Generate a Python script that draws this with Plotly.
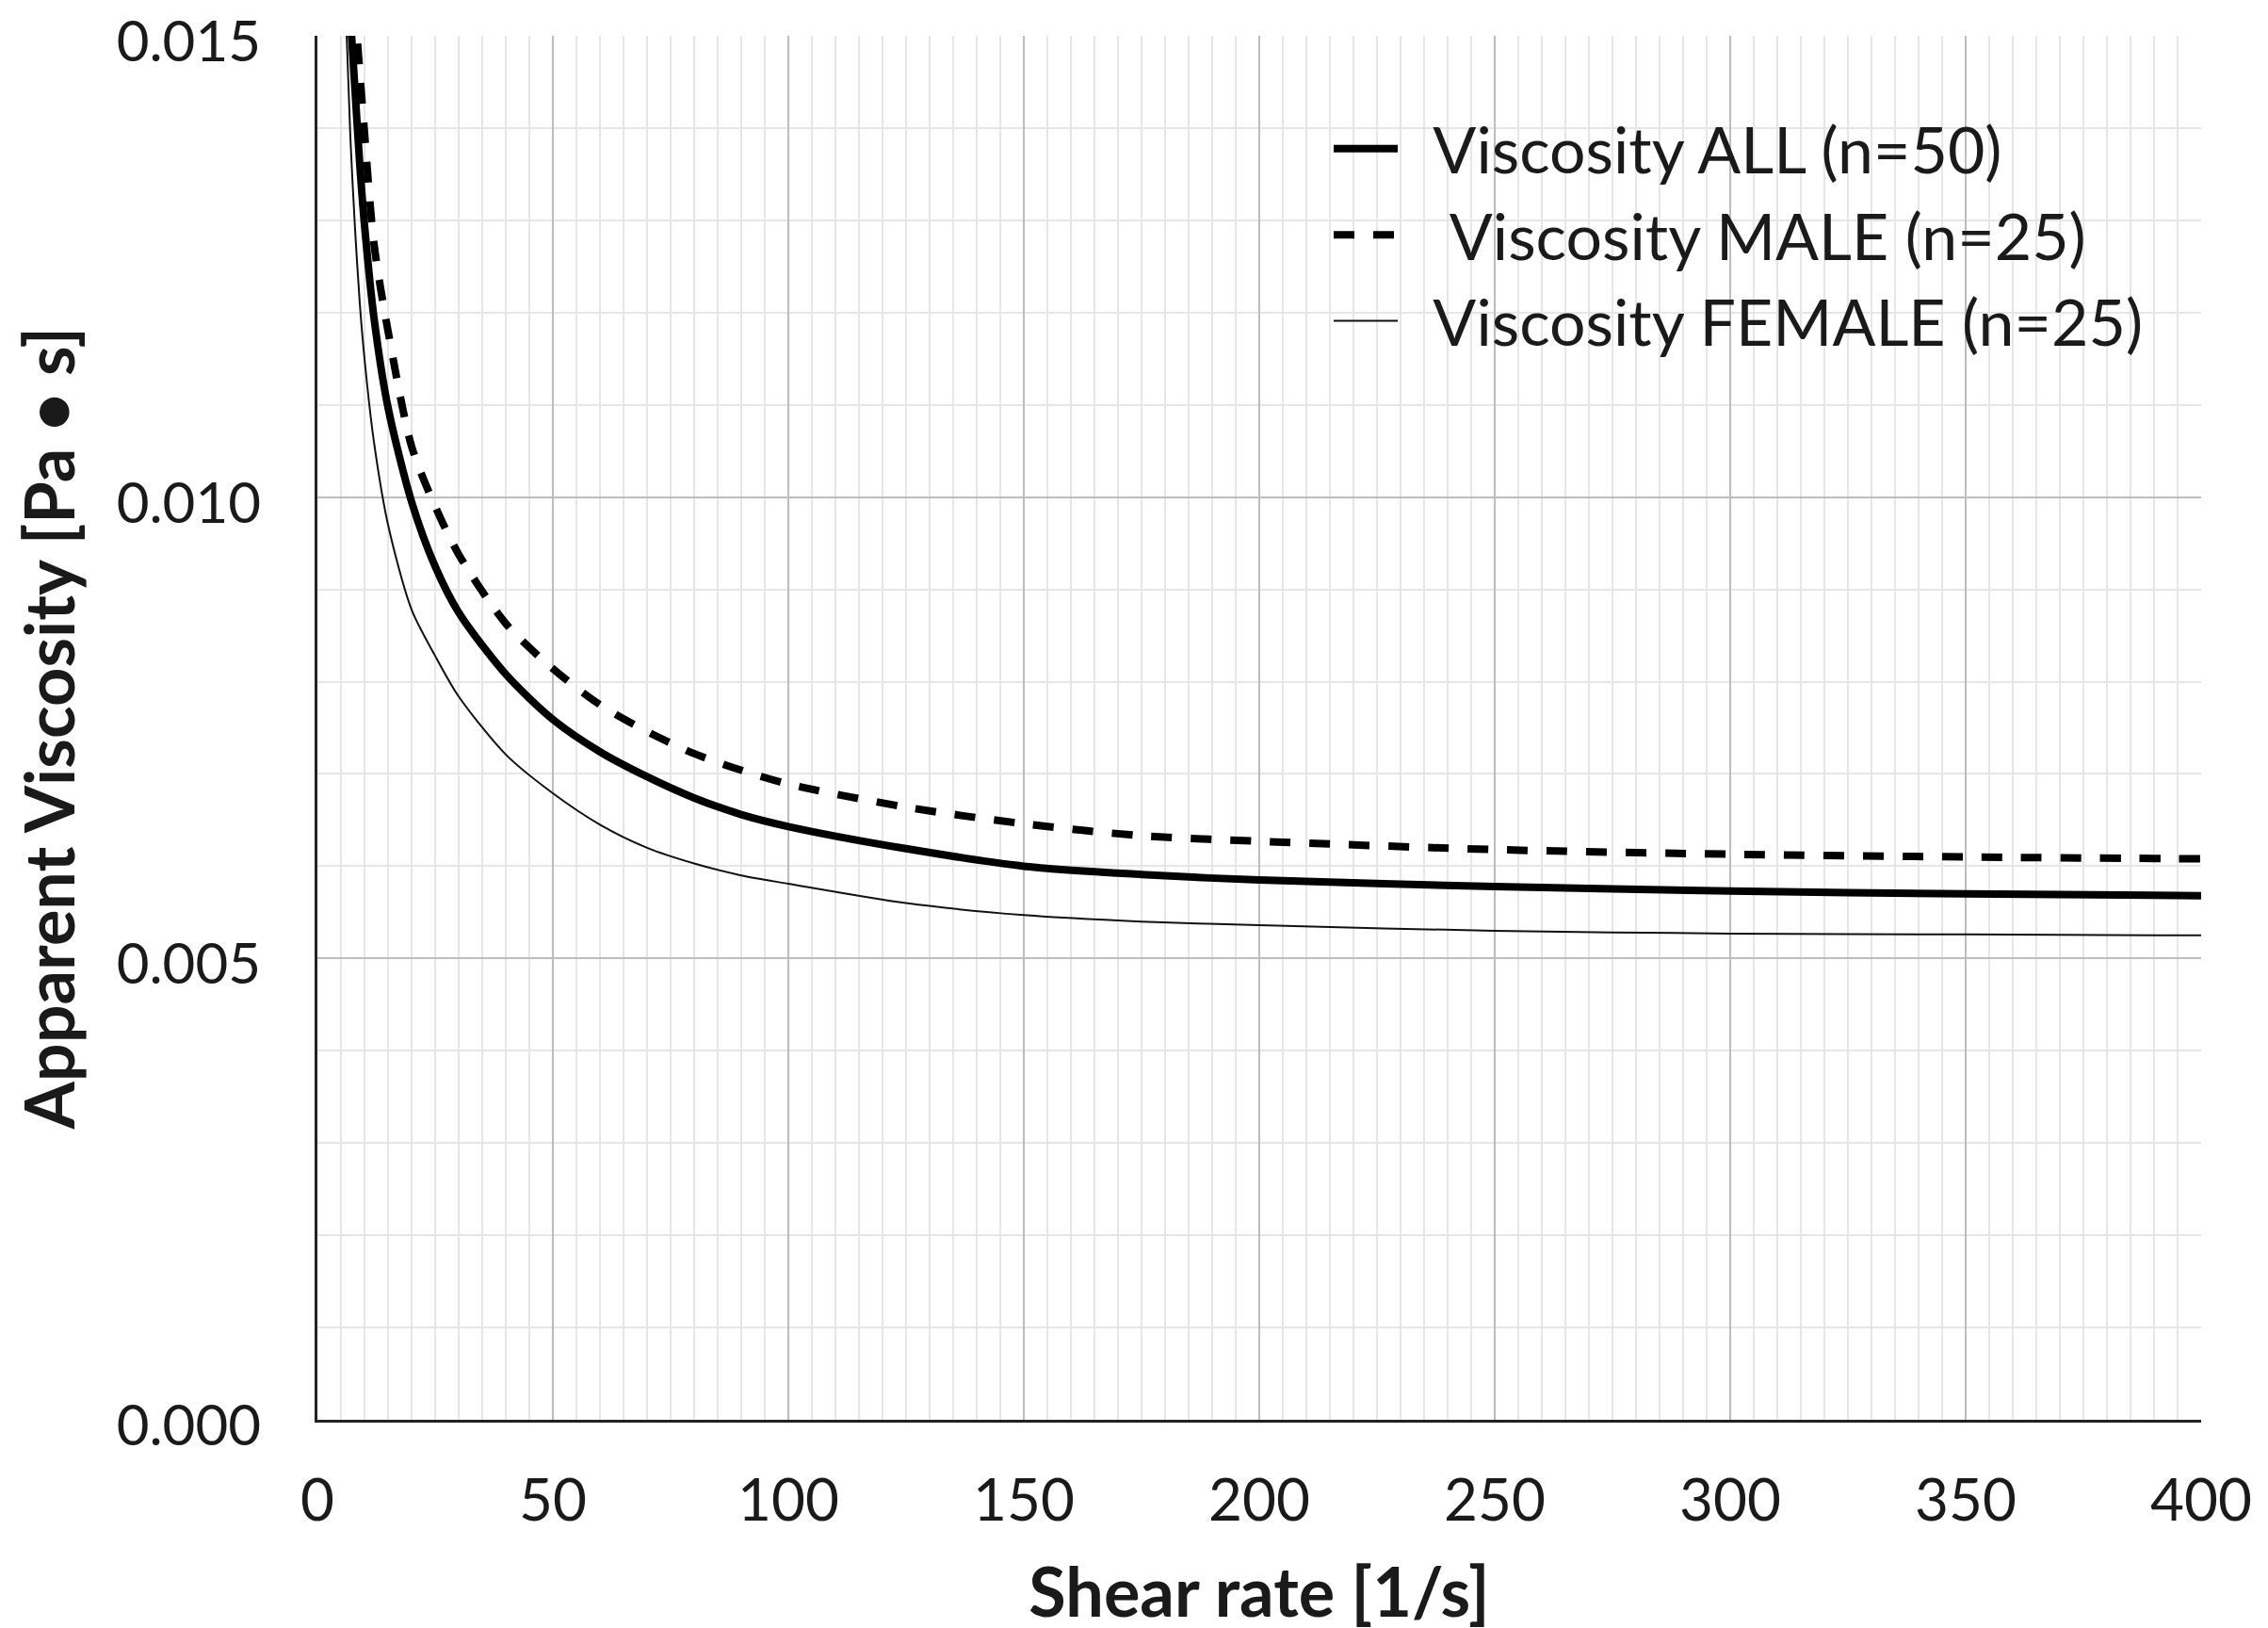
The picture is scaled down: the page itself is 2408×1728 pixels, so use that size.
import plotly.graph_objects as go

shear_rate = [7, 8, 9, 10, 12, 15, 20, 25, 30, 40, 50, 60, 70, 80, 90, 100,
              125, 150, 175, 200, 250, 300, 350, 400]

visc_all = [0.0152, 0.0144, 0.0136, 0.01295, 0.01195, 0.01097, 0.00995, 0.00925,
            0.00875, 0.00808, 0.00759, 0.00724, 0.00697, 0.00674, 0.00656, 0.00643,
            0.00619, 0.00600, 0.00591, 0.00585, 0.00578, 0.00573, 0.00570, 0.00568]

visc_male = [0.0162, 0.0153, 0.0146, 0.01395, 0.01275, 0.01180, 0.01055, 0.00990,
             0.00938, 0.00863, 0.00814, 0.00775, 0.00746, 0.00722, 0.00704, 0.00689,
             0.00664, 0.00646, 0.00633, 0.00627, 0.00618, 0.00613, 0.00610, 0.00608]

visc_female = [0.0139, 0.0129, 0.0121, 0.0115, 0.0106, 0.0097, 0.00878, 0.00828,
               0.00784, 0.00721, 0.00679, 0.00645, 0.00620, 0.00603, 0.00590, 0.00581,
               0.00560, 0.00547, 0.00540, 0.00536, 0.00530, 0.00527, 0.00526, 0.00525]

female_start_x = [6]
female_start_v = [0.0153]

names = ["Viscosity ALL (n=50)", "Viscosity MALE (n=25)", "Viscosity FEMALE (n=25)"]
name_pad = ["\u00a0\u00a0", "\u00a0\u00a0\u00a0", "\u00a0\u00a0"]

x_ticks = [0, 50, 100, 150, 200, 250, 300, 350, 400]
y_ticks = [0.000, 0.005, 0.010, 0.015]
y_ticktext = ["0.000", "0.005", "0.010", "0.015"]

FONT = "Lato"
TXT = "#1a1a1a"

fig = go.Figure()
fig.add_trace(go.Scatter(x=shear_rate, y=visc_all, mode="lines", name=name_pad[0] + names[0],
                         line=dict(color="black", width=8, shape="spline", smoothing=0.8)))
fig.add_trace(go.Scatter(x=shear_rate, y=visc_male, mode="lines", name=name_pad[1] + names[1],
                         line=dict(color="black", width=8, dash="22px,20px",
                                   shape="spline", smoothing=0.8)))
fig.add_trace(go.Scatter(x=female_start_x + shear_rate, y=female_start_v + visc_female,
                         mode="lines", name=name_pad[2] + names[2],
                         line=dict(color="#111111", width=2, shape="spline", smoothing=0.8)))

# page body has an 8px margin, so the figure is offset by 8px right/down
fig.update_layout(
    width=2408, height=1728,
    paper_bgcolor="white", plot_bgcolor="white",
    margin=dict(l=329, r=79, t=30, b=229, autoexpand=False),
    font=dict(family=FONT, color=TXT, size=58),
    legend=dict(
        x=0.537, y=0.953, xanchor="left", yanchor="top",
        bgcolor="rgba(0,0,0,0)",
        font=dict(family=FONT, size=68, color=TXT),
        itemwidth=68, tracegroupgap=0,
    ),
    showlegend=True,
)

fig.update_xaxes(
    range=[0, 400], tickvals=x_ticks, ticktext=[str(v) for v in x_ticks],
    showgrid=True, gridcolor="#bdbdbd", gridwidth=2,
    minor=dict(dtick=5, showgrid=True, gridcolor="#e6e6e6", gridwidth=1.5),
    showline=True, linecolor="#222222", linewidth=3, mirror=False,
    ticks="", zeroline=False, automargin=False, ticklabeloverflow="allow",
    tickfont=dict(family=FONT, size=62, color=TXT),
    ticklabelstandoff=30,
    title=dict(text="<b>Shear rate [1/s]</b>", font=dict(family=FONT, size=72, color=TXT),
               standoff=40),
)
fig.update_yaxes(
    range=[0, 0.015], tickvals=y_ticks, ticktext=y_ticktext,
    showgrid=True, gridcolor="#bdbdbd", gridwidth=2,
    minor=dict(dtick=0.001, showgrid=True, gridcolor="#e6e6e6", gridwidth=1.5),
    showline=True, linecolor="#222222", linewidth=3, mirror=False,
    ticks="", zeroline=False, automargin=False, ticklabeloverflow="allow",
    tickfont=dict(family=FONT, size=60, color=TXT),
    ticklabelstandoff=45, ticklabelshift=6,
    title=dict(text="<b>Apparent Viscosity [Pa • s]</b>",
               font=dict(family=FONT, size=72, color=TXT),
               standoff=32),
)

fig.write_html("out.html")
